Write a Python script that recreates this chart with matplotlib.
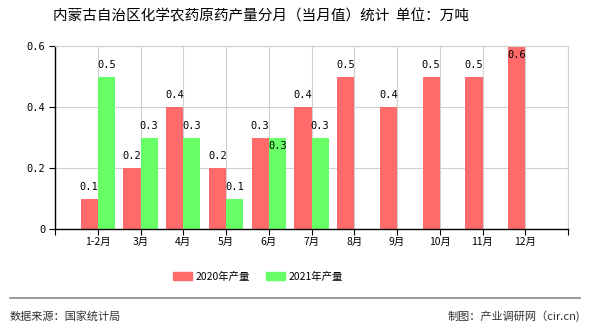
import matplotlib
matplotlib.use("Agg")
import matplotlib.pyplot as plt
from matplotlib.patches import Patch

plt.rcParams["font.family"] = ["Noto Sans CJK SC", "DejaVu Sans"]

# data (万吨)
months = ["1-2月", "3月", "4月", "5月", "6月", "7月", "8月", "9月", "10月", "11月", "12月"]
prod_2020 = [0.1, 0.2, 0.4, 0.2, 0.3, 0.4, 0.5, 0.4, 0.5, 0.5, 0.6]
prod_2021 = [0.5, 0.3, 0.3, 0.1, 0.3, 0.3]
yticks = [0, 0.2, 0.4, 0.6]
ytick_labels = ["0", "0.2", "0.4", "0.6"]

red = "#FF6A6A"
green = "#66FF66"
w = 0.4
ymax = 0.6

fig = plt.figure(figsize=(5.9, 3.3), dpi=100)
ax = fig.add_axes([55 / 590, 1 - 229 / 330, 513 / 590, 183 / 330])

x20 = list(range(len(prod_2020)))
x21 = list(range(len(prod_2021)))
ax.bar([i - w / 2 for i in x20], prod_2020, width=w, color=red, zorder=2)
ax.bar([i + w / 2 for i in x21], prod_2021, width=w, color=green, zorder=2)

lbl = dict(ha="center", fontsize=7.5, family="DejaVu Sans Mono", zorder=3)
for i, v in zip(x20, prod_2020):
    if v >= ymax:
        # no room above: label goes inside the bar top
        ax.text(i - w / 2, v - 0.012, f"{v:g}", va="top", **lbl)
    else:
        ax.text(i - w / 2, v + 0.022, f"{v:g}", va="bottom", **lbl)
for i, v in zip(x21, prod_2021):
    if prod_2020[i] == v:
        # same height as neighbour label: pushed below
        ax.text(i + w / 2, v - 0.012, f"{v:g}", va="top", **lbl)
    else:
        ax.text(i + w / 2, v + 0.022, f"{v:g}", va="bottom", **lbl)

ax.set_xlim(-1, 11)
ax.set_ylim(0, ymax)
ax.set_xticks(range(-1, 12))
ax.set_xticklabels([""] + months + [""], fontsize=7.5)
ax.set_yticks(yticks)
ax.set_yticklabels(ytick_labels, fontsize=7.5, family="DejaVu Sans Mono")
ax.tick_params(axis="x", length=4, width=0.8, pad=2)
ax.tick_params(axis="y", length=4, width=0.8, pad=3)

ax.grid(True, color="#D0D0D0", linewidth=0.8, zorder=0)
ax.set_axisbelow(True)
for s in ["top", "right"]:
    ax.spines[s].set_color("#D0D0D0")
for s in ["left", "bottom"]:
    ax.spines[s].set_color("black")
    ax.spines[s].set_linewidth(1.0)

fig.text(261 / 590, 1 - 16 / 330, "内蒙古自治区化学农药原药产量分月（当月值）统计  单位：万吨",
         ha="center", va="center", fontsize=10.5)

handles = [Patch(color=red, label="2020年产量"), Patch(color=green, label="2021年产量")]
fig.legend(handles=handles, loc="center", bbox_to_anchor=(258 / 590, 1 - 277 / 330),
           ncol=2, frameon=False, fontsize=7.5, handlelength=1.8, handleheight=0.8,
           columnspacing=1.6, handletextpad=0.3)

fig.add_artist(plt.Line2D([10 / 590, 580 / 590], [1 - 298 / 330, 1 - 298 / 330],
                          color="#888888", linewidth=1.2))
fig.text(10 / 590, 1 - 316 / 330, "数据来源：国家统计局", ha="left", va="center",
         fontsize=8, color="#333333")
fig.text(580 / 590, 1 - 316 / 330, "制图：产业调研网（cir.cn)", ha="right", va="center",
         fontsize=8, color="#333333")

fig.savefig("out.png", dpi=100)
